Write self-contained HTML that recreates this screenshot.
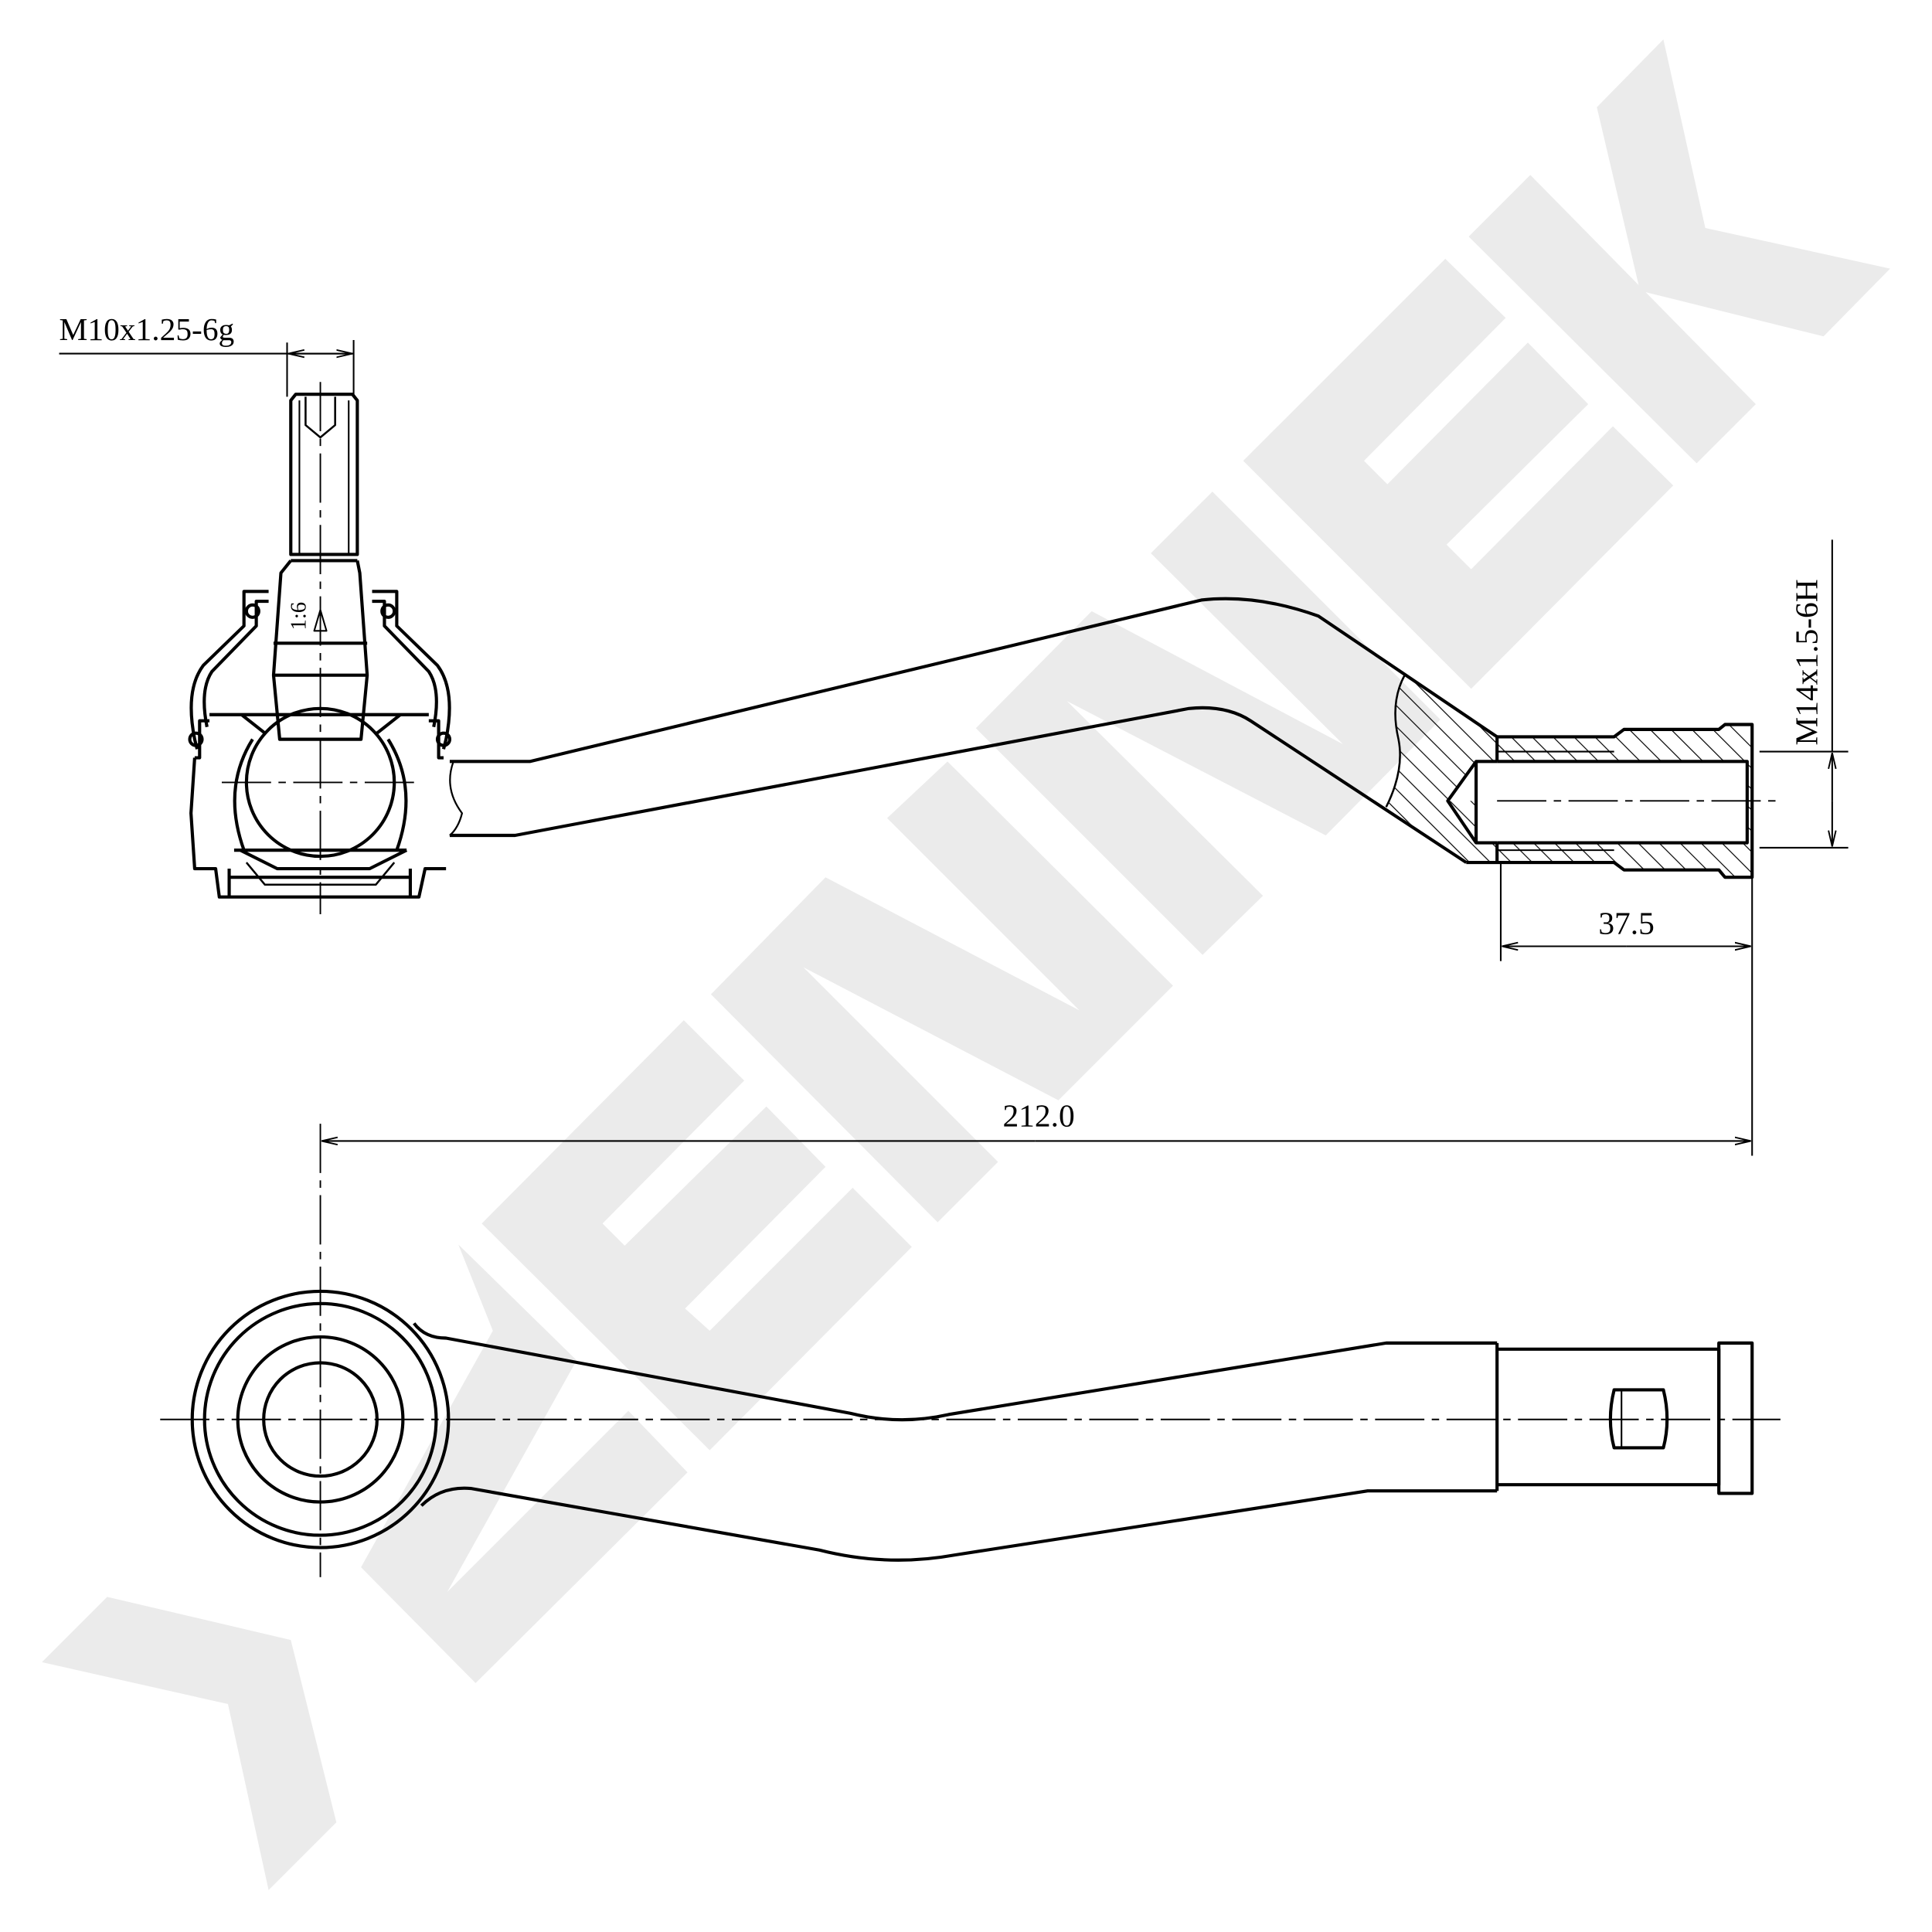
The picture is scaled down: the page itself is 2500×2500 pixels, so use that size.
<!DOCTYPE html>
<html><head><meta charset="utf-8"><style>
html,body{margin:0;padding:0;background:#fff;}
svg{display:block;}
text{font-family:"Liberation Serif",serif;fill:#000;}
</style></head><body>
<svg width="2500" height="2500" viewBox="0 0 1568 1568" xmlns="http://www.w3.org/2000/svg">
<defs>
<pattern id="h" width="12" height="12" patternUnits="userSpaceOnUse" patternTransform="rotate(-45)">
<line x1="0" y1="0" x2="0" y2="12" stroke="#000" stroke-width="1.5"/></pattern>
<marker id="a" markerWidth="14" markerHeight="8" refX="13" refY="4" orient="auto" markerUnits="userSpaceOnUse"><path d="M0,1 L13,4 L0,7" fill="none" stroke="#000" stroke-width="1.2"/></marker>
</defs>
<rect width="1568" height="1568" fill="#fff"/>
<!-- watermark -->
<g fill="#ebebeb" stroke="none">
<polygon points="87,1296 34,1349 185,1383 218,1534 273,1479 236,1331"/>
<polygon points="372,1010 468,1104 363,1292 510,1145 558,1195 386,1366 293,1272 400,1080"/>
<polygon points="391,993 555,828 604,877 489,993 507,1011 622,898 670,947 556,1062 576,1080 692,964 740,1012 576,1177"/>
<polygon points="577,807 670,712 876,820 720,664 769,618 952,800 859,893 652,785 810,943 761,992"/>
<polygon points="792,591 886,496 1090,604 934,449 984,399 1169,584 1076,678 866,569 1025,727 976,775"/>
<polygon points="1009,374 1173,210 1222,258 1107,374 1126,393 1240,278 1289,328 1174,442 1194,462 1309,346 1358,394 1194,559"/>
<polygon points="1296,87 1350,32 1384,185 1534,218 1480,273 1331,236"/>
<polygon points="1192,192 1242,142 1425,328 1377,376"/>
</g>
<g stroke="#000" stroke-width="2.6" fill="none" stroke-linejoin="round">
<!-- top dim M10 -->
<text x="48" y="276" font-size="26" stroke="none">M10x1.25-6g</text>
<line x1="48" y1="287" x2="287" y2="287" stroke-width="1.3"/>
<line x1="233" y1="278" x2="233" y2="322" stroke-width="1.3"/>
<line x1="287" y1="276" x2="287" y2="322" stroke-width="1.3"/>
<line x1="260" y1="287" x2="234" y2="287" stroke-width="1.3" marker-end="url(#a)"/>
<line x1="260" y1="287" x2="286" y2="287" stroke-width="1.3" marker-end="url(#a)"/>
<!-- stud -->
<path d="M236,325 L240,320 L286,320 L290,325 L290,450 L236,450 Z"/>
<line x1="243" y1="325" x2="243" y2="450" stroke-width="1.3"/>
<line x1="283" y1="325" x2="283" y2="450" stroke-width="1.3"/>
<path d="M248,322 L248,345 L260,355 L272,345 L272,322" stroke-width="1.6"/>
<line x1="236" y1="455" x2="290" y2="455"/>
<path d="M236,455 L228,465 L222,548 L227,600 L293,600 L298,548 L292,465 L290,455"/>
<line x1="222" y1="522" x2="298" y2="522"/>
<line x1="222" y1="548" x2="298" y2="548"/>
<text x="0" y="0" font-size="18" stroke="none" transform="translate(248,500) rotate(-90)" text-anchor="middle">1:6</text>
<path d="M255,512 L260,495 L265,512 Z" stroke-width="1.3"/>
<!-- housing/boot -->
<path d="M218,480 L198,480 L198,508 L165,540 Q150,560 158,600 L160,608"/>
<path d="M218,488 L208,488 L208,508 L172,545 Q162,560 168,590"/>
<path d="M302,480 L322,480 L322,508 L355,540 Q370,560 362,600 L360,608"/>
<path d="M302,488 L312,488 L312,508 L348,545 Q358,560 352,590"/>
<circle cx="205" cy="496" r="5"/><circle cx="315" cy="496" r="5"/>
<circle cx="159" cy="600" r="5"/><circle cx="360" cy="600" r="5"/>
<path d="M170,580 L348,580"/>
<path d="M196,580 L215,595 M325,580 L306,595"/>
<path d="M158,615 L162,615 L162,585 L170,585 M360,615 L356,615 L356,585 L348,585"/>
<path d="M158,615 L155,660 L158,705 L175,705 L178,728 L340,728 L345,705 L362,705"/>
<path d="M186,705 L186,728 M333,705 L333,728 M186,712 L333,712"/>
<circle cx="260" cy="635" r="60"/>
<path d="M205,600 Q180,640 198,690 M315,600 Q340,640 322,690" />
<path d="M190,690 L330,690 M195,690 L225,705 L300,705 L330,690"/>
<path d="M200,700 L215,718 L305,718 L320,700" stroke-width="1.6"/>
<!-- centerlines left -->
<g stroke-width="1.2" stroke-dasharray="40,6,6,6">
<line x1="260" y1="310" x2="260" y2="742"/>
<line x1="180" y1="635" x2="340" y2="635"/>
</g>
<!-- arm top view -->
<path d="M365,618 L430,618 L975,487 Q1020,482 1070,500 L1215,598"/>
<path d="M365,678 L418,678 L965,575 Q995,572 1015,585 L1190,700"/>
<path d="M368,618 Q360,640 375,660 Q372,672 365,678" stroke-width="1.4"/>
<!-- hatch section -->
<path d="M1140,548 Q1128,570 1135,600 Q1140,625 1125,655 L1190,700 L1215,700 L1215,684 L1198,684 L1198,650 L1175,650 L1198,618 L1215,618 L1215,598 Z" fill="url(#h)" stroke="none"/>
<path d="M1140,548 Q1128,570 1135,600 Q1140,625 1125,655" stroke-width="1.6"/>
<path d="M1215,598 L1310,598 L1318,592 L1395,592 L1400,588 L1422,588 L1422,712 L1400,712 L1395,706 L1318,706 L1310,700 L1190,700"/>
<path d="M1215,598 L1310,598 L1318,592 L1395,592 L1400,588 L1422,588 L1422,712 L1400,712 L1395,706 L1318,706 L1310,700 L1215,700 L1215,684 L1418,684 L1418,618 L1215,618 Z" fill="url(#h)" stroke="none"/>
<path d="M1215,618 L1418,618 L1418,684 L1215,684"/>
<path d="M1215,618 L1198,618 L1175,650 L1198,684 L1215,684 M1198,618 L1198,684"/>
<line x1="1215" y1="598" x2="1215" y2="618"/><line x1="1215" y1="684" x2="1215" y2="700"/>
<line x1="1215" y1="610" x2="1310" y2="610" stroke-width="1.3"/><line x1="1215" y1="690" x2="1310" y2="690" stroke-width="1.3"/>
<line x1="1215" y1="650" x2="1445" y2="650" stroke-width="1.2" stroke-dasharray="40,6,6,6"/>
<!-- dims right -->
<line x1="1428" y1="610" x2="1500" y2="610" stroke-width="1.3"/>
<line x1="1428" y1="688" x2="1500" y2="688" stroke-width="1.3"/>
<line x1="1487" y1="438" x2="1487" y2="610" stroke-width="1.3"/>
<line x1="1487" y1="650" x2="1487" y2="611" stroke-width="1.3" marker-end="url(#a)"/>
<line x1="1487" y1="650" x2="1487" y2="687" stroke-width="1.3" marker-end="url(#a)"/>
<text font-size="26" stroke="none" transform="translate(1475,605) rotate(-90)">M14x1.5-6H</text>
<line x1="1218" y1="700" x2="1218" y2="780" stroke-width="1.3"/>
<line x1="1422" y1="712" x2="1422" y2="938" stroke-width="1.3"/>
<line x1="1320" y1="768" x2="1219" y2="768" stroke-width="1.3" marker-end="url(#a)"/>
<line x1="1320" y1="768" x2="1421" y2="768" stroke-width="1.3" marker-end="url(#a)"/>
<text x="1320" y="758" font-size="26" stroke="none" text-anchor="middle">37.5</text>
<line x1="840" y1="926" x2="261" y2="926" stroke-width="1.3" marker-end="url(#a)"/>
<line x1="840" y1="926" x2="1421" y2="926" stroke-width="1.3" marker-end="url(#a)"/>
<text x="843" y="914" font-size="26" stroke="none" text-anchor="middle">212.0</text>
<line x1="260" y1="912" x2="260" y2="1280" stroke-width="1.2" stroke-dasharray="40,6,6,6"/>
<!-- bottom view -->
<circle cx="260" cy="1152" r="104"/>
<circle cx="260" cy="1152" r="94"/>
<circle cx="260" cy="1152" r="67"/>
<circle cx="260" cy="1152" r="46"/>
<path d="M336,1074 Q345,1086 362,1086 L690,1147 Q730,1157 770,1148 L1125,1090 L1215,1090"/>
<path d="M342,1222 Q358,1206 382,1208 L665,1258 Q720,1272 775,1262 L1110,1210 L1215,1210"/>
<path d="M1215,1090 L1215,1210 M1215,1095 L1395,1095 L1395,1205 L1215,1205"/>
<rect x="1395" y="1090" width="27" height="122"/>
<path d="M1310,1128 L1350,1128 Q1356,1152 1350,1175 L1310,1175 Q1304,1152 1310,1128 Z"/>
<line x1="1316" y1="1128" x2="1316" y2="1175" stroke-width="1.3"/>
<line x1="130" y1="1152" x2="1445" y2="1152" stroke-width="1.2" stroke-dasharray="40,6,6,6"/>
</g>
</svg>
</body></html>
